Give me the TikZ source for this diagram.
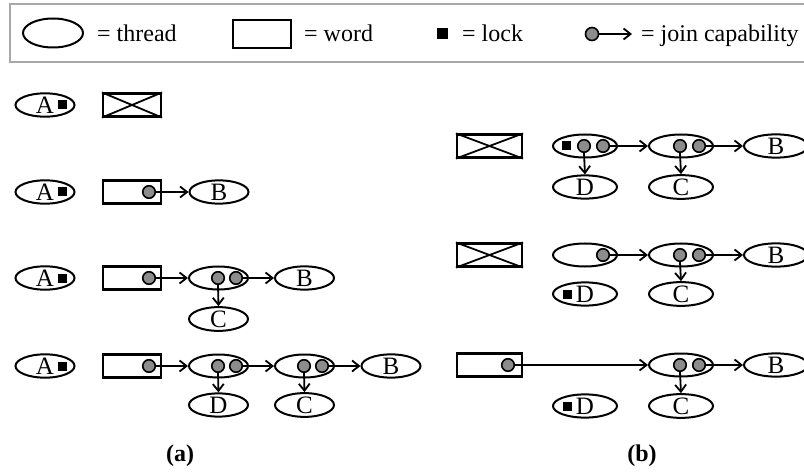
\documentclass[tikz,border=0pt]{standalone}
\usepackage{fontspec}
\setmainfont{Liberation Serif}
\usetikzlibrary{arrows.meta,shapes.geometric}
\definecolor{capgray}{HTML}{8C8C8C}
\definecolor{framegray}{HTML}{A8A8A8}
\begin{document}
\begin{tikzpicture}[x=1pt,y=-1pt,
  every node/.style={font=\fontsize{25}{28}\selectfont},
  thread/.style={draw, ellipse, line width=2pt, minimum width=59pt, minimum height=23pt, inner sep=0pt},
  threadb/.style={thread, minimum width=64pt},
  word/.style={draw, rectangle, line width=2.2pt, minimum width=58pt, minimum height=23pt, inner sep=0pt},
  wordb/.style={word, minimum width=65pt},
  lockbox/.style={fill=black, rectangle, minimum size=9pt, inner sep=0pt},
  capdot/.style={circle, draw, line width=1.6pt, fill=capgray, minimum size=12.5pt, inner sep=0pt},
  joinarrow/.style={-{Straight Barb[length=7pt,width=11pt,line width=1.8pt]}, line width=1.8pt},
  legtext/.style={anchor=base west, inner sep=0pt, font=\fontsize{24}{28}\selectfont},
  cross/.style={line width=1.8pt}
]
\useasboundingbox (0,0) rectangle (804,476);

% ---------------- legend ----------------
\draw[framegray, line width=1.6pt] (10,4) rectangle (814,62);
\node[thread, minimum width=60pt, minimum height=29pt] (lt) at (53,33) {};
\node[legtext] (ltt) at (97,42) {= thread};
\node[word, minimum height=28pt] (lw) at (262,34) {};
\node[legtext] (lwt) at (304,42) {= word};
\node[lockbox, minimum size=11pt] (ll) at (442,34) {};
\node[legtext] (llt) at (462,42) {= lock};
\node[capdot, minimum size=13pt] (lc) at (592,34) {};
\coordinate (lce) at (632,34);
\draw[joinarrow] (lc.east) -- (lce);
\node[legtext] (lct) at (641,42) {= join capability};

% ---------------- panel (a) ----------------
% row 1
\node[thread] (a1A) at (45,105) {A};
\node[lockbox] (a1L) at (62.5,105) {};
\node[word] (a1W) at (132,105) {};
\draw[cross] (a1W.north west) -- (a1W.south east) (a1W.south west) -- (a1W.north east);

% row 2
\node[thread] (a2A) at (45,192) {A};
\node[lockbox] (a2L) at (62.5,192) {};
\node[word] (a2W) at (132,192) {};
\node[capdot] (a2c) at (149,192) {};
\node[thread] (a2B) at (219,192) {B};
\draw[joinarrow] (a2c.east) -- (a2B.west);

% row 3
\node[thread] (a3A) at (45,278) {A};
\node[lockbox] (a3L) at (62.5,278) {};
\node[word] (a3W) at (132,278) {};
\node[capdot] (a3c) at (149,278) {};
\node[thread] (a3T) at (218.5,278) {};
\node[capdot] (a3c1) at (218,278) {};
\node[capdot] (a3c2) at (236,278) {};
\node[thread] (a3B) at (304.5,278) {B};
\node[thread] (a3C) at (218.5,319) {C};
\draw[joinarrow] (a3c.east) -- (a3T.west);
\draw[joinarrow] (a3c2.east) -- (a3B.west);
\draw[joinarrow] (a3c1.south) -- (a3C.north);

% row 4
\node[thread] (a4A) at (45,366) {A};
\node[lockbox] (a4L) at (62.5,366) {};
\node[word] (a4W) at (132,366) {};
\node[capdot] (a4c) at (149,366) {};
\node[thread] (a4T) at (218.5,366) {};
\node[capdot] (a4c1) at (218,366) {};
\node[capdot] (a4c2) at (236,366) {};
\node[thread] (a4U) at (304.5,366) {};
\node[capdot] (a4d1) at (304,366) {};
\node[capdot] (a4d2) at (322,366) {};
\node[thread] (a4B) at (391,366) {B};
\node[thread] (a4D) at (218.5,405) {D};
\node[thread] (a4C) at (304.5,405) {C};
\draw[joinarrow] (a4c.east) -- (a4T.west);
\draw[joinarrow] (a4c2.east) -- (a4U.west);
\draw[joinarrow] (a4d2.east) -- (a4B.west);
\draw[joinarrow] (a4c1.south) -- (a4D.north);
\draw[joinarrow] (a4d1.south) -- (a4C.north);

\node[font=\fontsize{24}{28}\selectfont\bfseries] (labA) at (180,456) {(a)};

% ---------------- panel (b) ----------------
% row 1
\node[wordb] (b1W) at (489.5,146) {};
\draw[cross] (b1W.north west) -- (b1W.south east) (b1W.south west) -- (b1W.north east);
\node[threadb] (b1T) at (585,146) {};
\node[lockbox] (b1L) at (566,146) {};
\node[capdot] (b1c1) at (584,146) {};
\node[capdot] (b1c2) at (603,146) {};
\node[threadb] (b1U) at (681,146) {};
\node[capdot] (b1d1) at (680,146) {};
\node[capdot] (b1d2) at (699,146) {};
\node[threadb] (b1B) at (776,146) {B};
\node[threadb] (b1D) at (585,187) {D};
\node[threadb] (b1C) at (681,187) {C};
\draw[joinarrow] (b1c2.east) -- (b1U.west);
\draw[joinarrow] (b1d2.east) -- (b1B.west);
\draw[joinarrow] (b1c1.south) -- (b1D.north);
\draw[joinarrow] (b1d1.south) -- (b1C.north);

% row 2
\node[wordb] (b2W) at (489.5,255) {};
\draw[cross] (b2W.north west) -- (b2W.south east) (b2W.south west) -- (b2W.north east);
\node[threadb] (b2T) at (585,255) {};
\node[capdot] (b2c2) at (603,255) {};
\node[threadb] (b2U) at (681,255) {};
\node[capdot] (b2d1) at (680,255) {};
\node[capdot] (b2d2) at (699,255) {};
\node[threadb] (b2B) at (776,255) {B};
\node[threadb] (b2D) at (585,294) {D};
\node[lockbox] (b2L) at (567,294) {};
\node[threadb] (b2C) at (681,294) {C};
\draw[joinarrow] (b2c2.east) -- (b2U.west);
\draw[joinarrow] (b2d2.east) -- (b2B.west);
\draw[joinarrow] (b2d1.south) -- (b2C.north);

% row 3
\node[wordb] (b3W) at (489.5,365) {};
\node[capdot] (b3c) at (508,365) {};
\node[threadb] (b3U) at (681,365) {};
\node[capdot] (b3d1) at (680,365) {};
\node[capdot] (b3d2) at (699,365) {};
\node[threadb] (b3B) at (776,365) {B};
\node[threadb] (b3D) at (585,406) {D};
\node[lockbox] (b3L) at (567,406) {};
\node[threadb] (b3C) at (681,406) {C};
\draw[joinarrow] (b3c.east) -- (b3U.west);
\draw[joinarrow] (b3d2.east) -- (b3B.west);
\draw[joinarrow] (b3d1.south) -- (b3C.north);

\node[font=\fontsize{24}{28}\selectfont\bfseries] (labB) at (642,456) {(b)};
\end{tikzpicture}
\end{document}
